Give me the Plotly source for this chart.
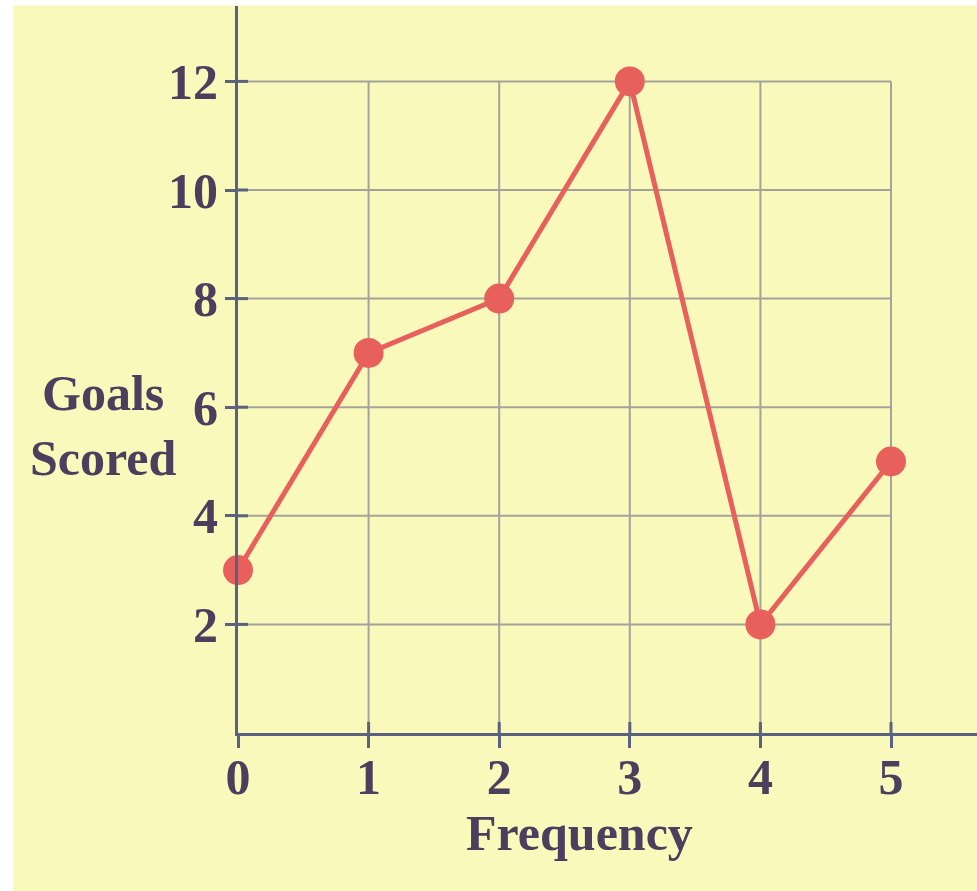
import plotly.graph_objects as go

# Data
frequency = [0, 1, 2, 3, 4, 5]
goals_scored = [3, 7, 8, 12, 2, 5]
x_ticks = [0, 1, 2, 3, 4, 5]
y_ticks = [2, 4, 6, 8, 10, 12]
x_title = "Frequency"
y_title = "Goals<br>Scored"

BG = "#f9f9bb"
TEXT = "#4b3f5e"
AXIS = "#5b6280"
GRID = "#a3a39c"
LINE = "#e8605c"
FONT = "Liberation Serif"

W, H = 977, 891
L, R, T, B = 238, 0, 6, 158
pw = W - L - R
ph = H - T - B

fig = go.Figure()
fig.add_trace(go.Scatter(
    x=frequency, y=goals_scored, mode="lines+markers",
    line=dict(color=LINE, width=5),
    marker=dict(color=LINE, size=30),
    showlegend=False, cliponaxis=False,
))

shapes = []
xmax = max(x_ticks)
ymax = max(y_ticks)
for xv in x_ticks[1:]:
    shapes.append(dict(type="line", xref="x", yref="y", x0=xv, x1=xv, y0=0, y1=ymax,
                       line=dict(color=GRID, width=2), layer="below"))
for yv in y_ticks:
    shapes.append(dict(type="line", xref="x", yref="y", x0=0, x1=xmax, y0=yv, y1=yv,
                       line=dict(color=GRID, width=2), layer="below"))
# inner tick halves
for xv in x_ticks[1:]:
    shapes.append(dict(type="line", xref="x", yref="paper", x0=xv, x1=xv, y0=0, y1=11 / ph,
                       line=dict(color=AXIS, width=3), layer="above"))
for yv in y_ticks:
    shapes.append(dict(type="line", xref="paper", yref="y", x0=0, x1=10 / pw, y0=yv, y1=yv,
                       line=dict(color=AXIS, width=3), layer="above"))
# white page edges
shapes.append(dict(type="rect", xref="paper", yref="paper",
                   x0=-L / pw - 0.05, x1=(13 - L) / pw, y0=-1, y1=2,
                   fillcolor="white", line=dict(width=0), layer="above"))
shapes.append(dict(type="rect", xref="paper", yref="paper",
                   x0=-1, x1=2, y0=1 + 0.5 / ph, y1=1.2,
                   fillcolor="white", line=dict(width=0), layer="above"))

fig.update_layout(
    width=W, height=H,
    margin=dict(l=L, r=R, t=T, b=B),
    paper_bgcolor=BG, plot_bgcolor=BG,
    shapes=shapes,
    xaxis=dict(range=[0, (W - L) / 130.6], tickvals=x_ticks, showgrid=False, zeroline=False,
               showline=True, linecolor=AXIS, linewidth=3,
               ticks="outside", ticklen=12, tickwidth=3, tickcolor=AXIS,
               tickfont=dict(family=FONT, size=50, color=TEXT, weight="bold"),
               ticklabelstandoff=-14),
    yaxis=dict(range=[0, (H - B - T) / 54.3], tickvals=y_ticks, showgrid=False, zeroline=False,
               showline=True, linecolor=AXIS, linewidth=3,
               ticks="outside", ticklen=10, tickwidth=3, tickcolor=AXIS,
               tickfont=dict(family=FONT, size=50, color=TEXT, weight="bold"),
               ticklabelstandoff=-3),
    annotations=[
        dict(text=y_title, xref="paper", yref="paper", x=(103 - L) / pw, y=(H - B - 425) / ph,
             xanchor="center", yanchor="middle", showarrow=False, align="center",
             font=dict(family=FONT, size=50, color=TEXT, weight="bold")),
        dict(text=x_title, xref="paper", yref="paper", x=(579 - L) / pw, y=(H - B - 833) / ph,
             xanchor="center", yanchor="middle", showarrow=False,
             font=dict(family=FONT, size=50, color=TEXT, weight="bold")),
    ],
)

fig.write_html("out.html", config={"displayModeBar": False},
               post_script="document.body.style.margin='0';document.body.style.overflow='hidden';")
